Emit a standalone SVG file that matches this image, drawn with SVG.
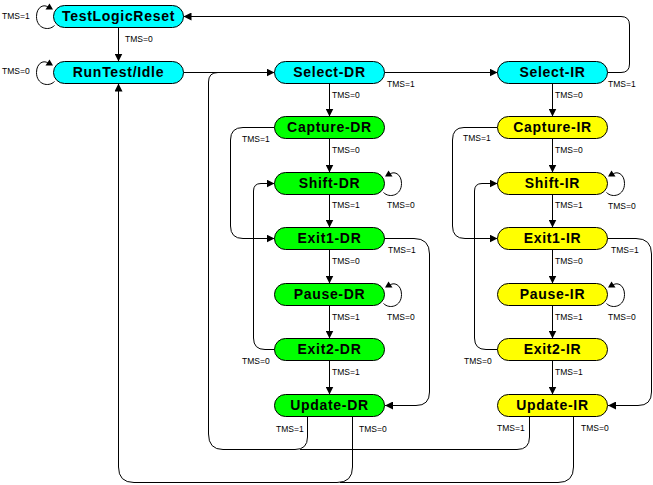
<svg xmlns="http://www.w3.org/2000/svg" xmlns:xlink="http://www.w3.org/1999/xlink" width="653" height="485" viewBox="0 0 653 485">
<style>
.n{stroke:#000;stroke-width:1}
.c{fill:#00FFFF}.g{fill:#00FF00}.y{fill:#FFFF00}
.t{font-family:"Liberation Sans",Arial,sans-serif;font-weight:bold;font-size:14px;letter-spacing:0.7px;text-anchor:middle;fill:#000}
.l{font-family:"Liberation Sans",Arial,sans-serif;font-size:8.5px;fill:#000}
.w{fill:none;stroke:#000;stroke-width:1}
.a{fill:#000;stroke:none}
</style>
<defs>
<marker id="ar" viewBox="0 0 8 8" markerWidth="8" markerHeight="8" refX="8" refY="4" orient="auto" markerUnits="userSpaceOnUse"><path d="M0,0 L8,4 L0,8 z" fill="#000"/></marker>
<g id="loopR"><path class="w" d="M-1,9 C5,15 17,12 17,0 C17,-10 9,-13 5,-9"/><polygon class="a" points="4,-13 0.5,-7 8,-7"/></g>
</defs>
<rect width="653" height="485" fill="#fff"/>
<g id="connectors">
<path class="w" marker-end="url(#ar)" d="M118.5,27.5 V61.5"/>
<path class="w" marker-end="url(#ar)" d="M183.5,72.5 H274.5"/>
<path class="w" marker-end="url(#ar)" d="M384.5,72.5 H497.5"/>
<path class="w" marker-end="url(#ar)" d="M607.5,72.5 H621 Q629.5,72.5 629.5,64 V25 Q629.5,16.5 621,16.5 H183.5"/>
<path class="w" marker-end="url(#ar)" d="M329.5,83.5 V116.5"/>
<path class="w" marker-end="url(#ar)" d="M329.5,138.5 V172.5"/>
<path class="w" marker-end="url(#ar)" d="M329.5,194.5 V227.5"/>
<path class="w" marker-end="url(#ar)" d="M329.5,249.5 V283.5"/>
<path class="w" marker-end="url(#ar)" d="M329.5,305.5 V338.5"/>
<path class="w" marker-end="url(#ar)" d="M329.5,360.5 V394.5"/>
<path class="w" marker-end="url(#ar)" d="M552.5,83.5 V116.5"/>
<path class="w" marker-end="url(#ar)" d="M552.5,138.5 V172.5"/>
<path class="w" marker-end="url(#ar)" d="M552.5,194.5 V227.5"/>
<path class="w" marker-end="url(#ar)" d="M552.5,249.5 V283.5"/>
<path class="w" marker-end="url(#ar)" d="M552.5,305.5 V338.5"/>
<path class="w" marker-end="url(#ar)" d="M552.5,360.5 V394.5"/>
<path class="w" marker-end="url(#ar)" d="M274.5,127.5 H243 Q230.5,127.5 230.5,140 V226 Q230.5,238.5 243,238.5 H274.5"/>
<path class="w" marker-end="url(#ar)" d="M274.5,349.5 H265 Q253.5,349.5 253.5,338 V191 Q253.5,183.5 261,183.5 H274.5"/>
<path class="w" marker-end="url(#ar)" d="M384.5,238.5 H414 Q429.5,238.5 429.5,254 V392 Q429.5,405.5 416,405.5 H385"/>
<path class="w" d="M307.5,416.5 V437 Q307.5,449.5 295,449.5 H223 Q208.5,449.5 208.5,434 V82 Q208.5,72.5 218,72.5"/>
<path class="w" marker-end="url(#ar)" d="M352.5,416.5 V467 Q352.5,482.5 337,482.5 H134 Q118.5,482.5 118.5,467 V83.5"/>
<path class="w" marker-end="url(#ar)" d="M497.5,127.5 H464 Q452.5,127.5 452.5,140 V226 Q452.5,238.5 465,238.5 H497.5"/>
<path class="w" marker-end="url(#ar)" d="M497.5,349.5 H486 Q474.5,349.5 474.5,338 V191 Q474.5,183.5 482,183.5 H497.5"/>
<path class="w" marker-end="url(#ar)" d="M607.5,238.5 H636 Q651.5,238.5 651.5,254 V392 Q651.5,405.5 638,405.5 H608"/>
<path class="w" d="M529.5,416.5 V437 Q529.5,449.5 517,449.5 H300"/>
<path class="w" d="M573.5,416.5 V467 Q573.5,482.5 558,482.5 H340"/>
<use xlink:href="#loopR" transform="translate(53.5,16.5) scale(-1,1)"/>
<use xlink:href="#loopR" transform="translate(53.5,72.5) scale(-1,1)"/>
<use xlink:href="#loopR" transform="translate(384.5,183.5)"/>
<use xlink:href="#loopR" transform="translate(384.5,294.5)"/>
<use xlink:href="#loopR" transform="translate(607.5,183.5)"/>
<use xlink:href="#loopR" transform="translate(607.5,294.5)"/>
</g>
<g id="labels">
<text class="l" x="2" y="19">TMS=1</text>
<text class="l" x="2" y="74">TMS=0</text>
<text class="l" x="125" y="42">TMS=0</text>
<text class="l" x="387" y="87">TMS=1</text>
<text class="l" x="608" y="87">TMS=1</text>
<text class="l" x="332" y="98">TMS=0</text>
<text class="l" x="332" y="153">TMS=0</text>
<text class="l" x="332" y="208">TMS=1</text>
<text class="l" x="332" y="264">TMS=0</text>
<text class="l" x="332" y="320">TMS=1</text>
<text class="l" x="332" y="375">TMS=1</text>
<text class="l" x="555" y="98">TMS=0</text>
<text class="l" x="555" y="153">TMS=0</text>
<text class="l" x="555" y="208">TMS=1</text>
<text class="l" x="555" y="264">TMS=0</text>
<text class="l" x="555" y="320">TMS=1</text>
<text class="l" x="555" y="375">TMS=1</text>
<text class="l" x="387" y="208">TMS=0</text>
<text class="l" x="387" y="320">TMS=0</text>
<text class="l" x="608" y="209">TMS=0</text>
<text class="l" x="608" y="320">TMS=0</text>
<text class="l" x="388" y="253">TMS=1</text>
<text class="l" x="611" y="253">TMS=1</text>
<text class="l" x="242" y="142">TMS=1</text>
<text class="l" x="463" y="141">TMS=1</text>
<text class="l" x="242" y="364">TMS=0</text>
<text class="l" x="464" y="364">TMS=0</text>
<text class="l" x="276" y="432">TMS=1</text>
<text class="l" x="359" y="432">TMS=0</text>
<text class="l" x="497" y="431">TMS=1</text>
<text class="l" x="581" y="431">TMS=0</text>
</g>
<g id="TestLogicReset"><rect class="n c" x="53.5" y="5.5" width="130" height="22" rx="11"/><text class="t" x="118.5" y="21">TestLogicReset</text></g>
<g id="RunTestIdle"><rect class="n c" x="53.5" y="61.5" width="130" height="22" rx="11"/><text class="t" x="118.5" y="77">RunTest/Idle</text></g>
<g id="SelectDR"><rect class="n c" x="274.5" y="61.5" width="110" height="22" rx="11"/><text class="t" x="329.5" y="77">Select-DR</text></g>
<g id="CaptureDR"><rect class="n g" x="274.5" y="116.5" width="110" height="22" rx="11"/><text class="t" x="329.5" y="132">Capture-DR</text></g>
<g id="ShiftDR"><rect class="n g" x="274.5" y="172.5" width="110" height="22" rx="11"/><text class="t" x="329.5" y="188">Shift-DR</text></g>
<g id="Exit1DR"><rect class="n g" x="274.5" y="227.5" width="110" height="22" rx="11"/><text class="t" x="329.5" y="243">Exit1-DR</text></g>
<g id="PauseDR"><rect class="n g" x="274.5" y="283.5" width="110" height="22" rx="11"/><text class="t" x="329.5" y="299">Pause-DR</text></g>
<g id="Exit2DR"><rect class="n g" x="274.5" y="338.5" width="110" height="22" rx="11"/><text class="t" x="329.5" y="354">Exit2-DR</text></g>
<g id="UpdateDR"><rect class="n g" x="274.5" y="394.5" width="110" height="22" rx="11"/><text class="t" x="329.5" y="410">Update-DR</text></g>
<g id="SelectIR"><rect class="n c" x="497.5" y="61.5" width="110" height="22" rx="11"/><text class="t" x="552.5" y="77">Select-IR</text></g>
<g id="CaptureIR"><rect class="n y" x="497.5" y="116.5" width="110" height="22" rx="11"/><text class="t" x="552.5" y="132">Capture-IR</text></g>
<g id="ShiftIR"><rect class="n y" x="497.5" y="172.5" width="110" height="22" rx="11"/><text class="t" x="552.5" y="188">Shift-IR</text></g>
<g id="Exit1IR"><rect class="n y" x="497.5" y="227.5" width="110" height="22" rx="11"/><text class="t" x="552.5" y="243">Exit1-IR</text></g>
<g id="PauseIR"><rect class="n y" x="497.5" y="283.5" width="110" height="22" rx="11"/><text class="t" x="552.5" y="299">Pause-IR</text></g>
<g id="Exit2IR"><rect class="n y" x="497.5" y="338.5" width="110" height="22" rx="11"/><text class="t" x="552.5" y="354">Exit2-IR</text></g>
<g id="UpdateIR"><rect class="n y" x="497.5" y="394.5" width="110" height="22" rx="11"/><text class="t" x="552.5" y="410">Update-IR</text></g>
</svg>
